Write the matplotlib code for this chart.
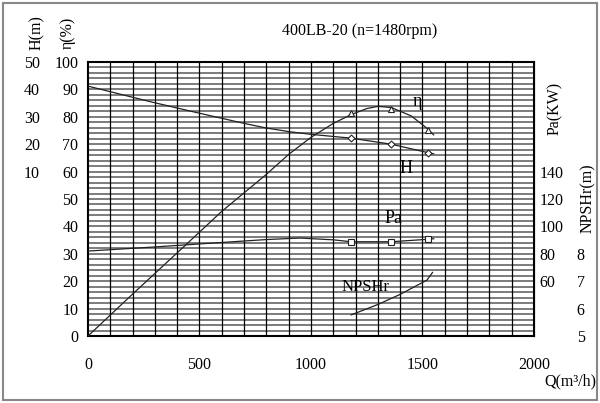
import numpy as np
import matplotlib
matplotlib.use('Agg')
import matplotlib.pyplot as plt
from matplotlib.patches import Rectangle

plt.rcParams['font.family'] = ['Liberation Serif', 'DejaVu Serif']

# 流量 Q (m3/h) 与各曲线
q_eff = [0, 200, 435, 600, 800, 900, 1000, 1100, 1180, 1250, 1300, 1360, 1450, 1520, 1550]
eff = [0, 15.3, 33, 45.5, 59, 66.3, 72.5, 77.6, 80.8, 83.0, 83.8, 83.4, 80.3, 75.8, 73.4]

q_head = [0, 280, 500, 700, 800, 900, 1000, 1180, 1360, 1525, 1550]
head = [41.2, 35.5, 31.3, 27.6, 25.9, 24.6, 23.6, 22.2, 20.0, 16.9, 16.5]

q_pow = [0, 300, 500, 800, 950, 1100, 1180, 1360, 1525, 1550]
power = [82, 85, 87.2, 90.4, 91.5, 90.2, 88.8, 88.8, 90.6, 91]

q_npsh = [1180, 1300, 1400, 1520, 1545]
npsh = [5.77, 6.15, 6.52, 7.04, 7.32]

# 标记点
q_mark = [1180, 1360, 1525]
eff_mark = [81.4, 82.7, 75.2]
head_mark = [22.2, 20.0, 16.7]
pow_mark = [88.8, 88.8, 90.8]

x_ticks = [0, 500, 1000, 1500, 2000]
eff_ticks = list(range(0, 101, 10))
head_ticks = [10, 20, 30, 40, 50]
pow_ticks = [60, 80, 100, 120, 140]
npsh_ticks = [5, 6, 7, 8]


# 各量换算到效率坐标
def h2e(h):
    return np.asarray(h) + 50


def e2h(e):
    return np.asarray(e) - 50


def p2e(p):
    return (np.asarray(p) - 20) / 2.0


def e2p(e):
    return np.asarray(e) * 2.0 + 20


def n2e(n):
    return (np.asarray(n) - 5) * 10.0


def e2n(e):
    return np.asarray(e) / 10.0 + 5


fig = plt.figure(figsize=(6.0, 4.03), dpi=100)
ax = fig.add_axes([88 / 600, 67 / 403, 446 / 600, 274 / 403])
ax.set_xlim(0, 2000)
ax.set_ylim(0, 100)

# 网格
for y in np.arange(2, 100, 2):
    ax.axhline(y, color='#666666', lw=1.2, zorder=1)
for x in np.arange(100, 2000, 100):
    ax.axvline(x, color='black', lw=0.9, zorder=1)
for s in ax.spines.values():
    s.set_linewidth(1.5)

lc = '#222222'
ax.plot(q_eff, eff, color=lc, lw=0.9, zorder=3)
ax.plot(q_head, h2e(head), color=lc, lw=0.9, zorder=3)
ax.plot(q_pow, p2e(power), color=lc, lw=0.9, zorder=3)
ax.plot(q_npsh, n2e(npsh), color=lc, lw=0.9, zorder=3)
ax.plot(q_mark, eff_mark, ls='none', marker='^', ms=5, mfc='white', mec=lc, mew=0.8, zorder=4)
ax.plot(q_mark, h2e(head_mark), ls='none', marker='D', ms=3.5, mfc='white', mec=lc, mew=0.8, zorder=4)
ax.plot(q_mark, p2e(pow_mark), ls='none', marker='s', ms=5, mfc='white', mec=lc, mew=0.8, zorder=4)

fs = 11.5
ax.set_xticks(x_ticks)
ax.set_yticks(eff_ticks)
ax.tick_params(axis='both', length=0, labelsize=fs)
ax.tick_params(axis='x', pad=15)
ax.tick_params(axis='y', pad=7)

sec_h = ax.secondary_yaxis(-0.108, functions=(e2h, h2e))
sec_h.set_yticks(head_ticks)
sec_h.yaxis.set_ticks_position('left')
sec_h.tick_params(length=0, labelsize=fs, pad=0)
sec_h.spines['left'].set_visible(False)

sec_p = ax.secondary_yaxis('right', functions=(e2p, p2e))
sec_p.set_yticks(pow_ticks)
sec_p.tick_params(length=0, labelsize=fs, pad=4)

sec_n = ax.secondary_yaxis(1.096, functions=(e2n, n2e))
sec_n.set_yticks(npsh_ticks)
sec_n.yaxis.set_ticks_position('right')
sec_n.tick_params(length=0, labelsize=fs, pad=0)
sec_n.spines['right'].set_visible(False)

# 曲线标注
ax.text(1475, 85.5, 'η', fontsize=13, ha='center', va='center')
ax.text(1425, 61.3, 'H', fontsize=13, ha='center', va='center')
ax.text(1370, 43.0, 'Pa', fontsize=13, ha='center', va='center')
ax.text(1245, 17.8, 'NPSHr', fontsize=12, ha='center', va='center')


# 轴标题
def ftext(x, y, s, **kw):
    fig.text(x / 600, 1 - y / 403, s, ha='center', va='center', fontsize=fs, **kw)


ftext(37, 33, 'H(m)', rotation=90)
ftext(68, 33, 'η(%)', rotation=90)
ftext(555, 108, 'Pa(KW)', rotation=90)
ftext(588, 198, 'NPSHr(m)', rotation=90)
ftext(360, 31, '400LB-20 (n=1480rpm)')
fig.text(596 / 600, 1 - 381 / 403, 'Q(m³/h)', ha='right', va='center', fontsize=fs)

fig.patches.append(Rectangle((3 / 600, 3 / 403), 594 / 600, 397 / 403, transform=fig.transFigure,
                             fill=False, edgecolor='#888888', lw=1.5))

fig.savefig('out.png', dpi=100)
